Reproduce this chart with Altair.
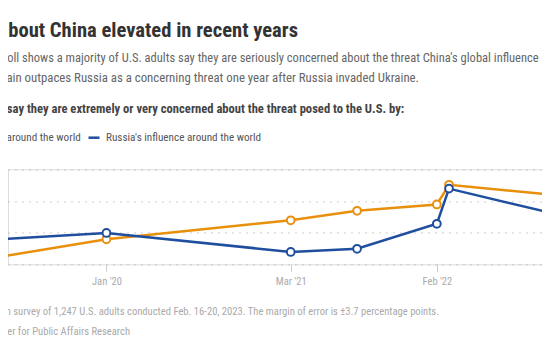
import altair as alt
import pandas as pd

# ---- data ----
dates = ["2019-03-01T00:00:00", "2020-01-01T00:00:00", "2021-03-01T00:00:00",
         "2021-08-01T00:00:00", "2022-02-01T00:00:00", "2022-03-01T00:00:00",
         "2023-02-01T00:00:00"]
china = [31.0, 37.9, 43.9, 46.9, 48.9, 55.1, 50.7]
russia = [37.4, 39.9, 33.9, 34.9, 42.8, 53.9, 42.9]
series = ["China's influence around the world", "Russia's influence around the world"]
colors = ["#e8900c", "#1f4e9f"]
tick_labels_dates = [(2020, 1, 1), (2021, 3, 1), (2022, 2, 1)]
y_ticks = [30, 40, 50, 60]

title_text = "bout China elevated in recent years"
sub1 = "poll shows a majority of U.S. adults say they are seriously concerned about the threat China's global influence"
sub2 = "gain outpaces Russia as a concerning threat one year after Russia invaded Ukraine."
question = "say they are extremely or very concerned about the threat posed to the U.S. by:"
foot1 = "on survey of 1,247 U.S. adults conducted Feb. 16-20, 2023. The margin of error is \u00b13.7 percentage points."
foot2 = "nter for Public Affairs Research"

rows = []
for d, c, r in zip(dates, china, russia):
    rows.append({"date": d, "series": series[0], "value": c})
    rows.append({"date": d, "series": series[1], "value": r})
df = pd.DataFrame(rows)

FONT = "Roboto Condensed"
W, H = 534, 95
TOP, BOTTOM = 161.3, 82.7

lines = alt.Chart(df).mark_line(
    strokeWidth=2.5,
    point=alt.OverlayMarkDef(filled=False, fill="white", size=60, strokeWidth=2, opacity=1),
).encode(
    x=alt.X("date:T",
            scale=alt.Scale(domain=[alt.DateTime(year=2019, month=5, date=19),
                                    alt.DateTime(year=2022, month=10, date=1, hours=12)]),
            axis=alt.Axis(values=[alt.DateTime(year=y, month=m, date=dd) for y, m, dd in tick_labels_dates],
                          format="%b '%y", title=None, grid=False, domain=False,
                          ticks=True, tickColor="#cccccc", tickSize=7, tickWidth=1,
                          labelColor="#aaaaaa", labelFontSize=10.5, labelPadding=5,
                          labelFont=FONT)),
    y=alt.Y("value:Q",
            scale=alt.Scale(domain=[30, 60], nice=False, zero=False),
            axis=alt.Axis(values=y_ticks, labels=False, ticks=False, domain=False,
                          title=None, grid=True, gridColor="#b0b0b0",
                          gridDash=[1, 6], gridWidth=1.3)),
    color=alt.Color("series:N",
                    scale=alt.Scale(domain=series, range=colors),
                    legend=alt.Legend(orient="none", legendX=-97, legendY=-39,
                                      direction="horizontal", title=None,
                                      symbolType="stroke", symbolSize=121,
                                      symbolStrokeWidth=2.5, labelFontSize=11.2,
                                      labelColor="#555555", labelOffset=5,
                                      columnPadding=2, labelLimit=400, padding=0,
                                      labelFont=FONT)),
)


def txt(s, x, y, size, color, weight="normal", align="left"):
    return alt.Chart(pd.DataFrame({"t": [s]})).mark_text(
        align=align, baseline="alphabetic", font=FONT, fontSize=size,
        fontWeight=weight, color=color,
    ).encode(text="t:N", x=alt.value(x), y=alt.value(y))


texts = [
    txt(title_text, 290, -132.3, 20.6, "#333333", "bold", "right"),
    txt(sub1, -7, -107.6, 12.5, "#666666", "normal", "left"),
    txt(sub2, 411, -87.6, 12.8, "#666666", "normal", "right"),
    txt(question, 396.3, -56.3, 12.6, "#444444", "bold", "right"),
    txt(foot1, 431, 145.7, 10.6, "#aaaaaa", "normal", "right"),
    txt(foot2, 122, 165.7, 10.6, "#aaaaaa", "normal", "right"),
]

chart = alt.layer(lines, *texts).properties(
    width=W, height=H,
    padding={"left": 0, "top": TOP, "right": 0, "bottom": BOTTOM},
    autosize=alt.AutoSizeParams(type="none"),
    background="white",
).configure_view(stroke=None).configure(font=FONT)

chart.save("out.html", embed_options={"renderer": "svg", "actions": False})
